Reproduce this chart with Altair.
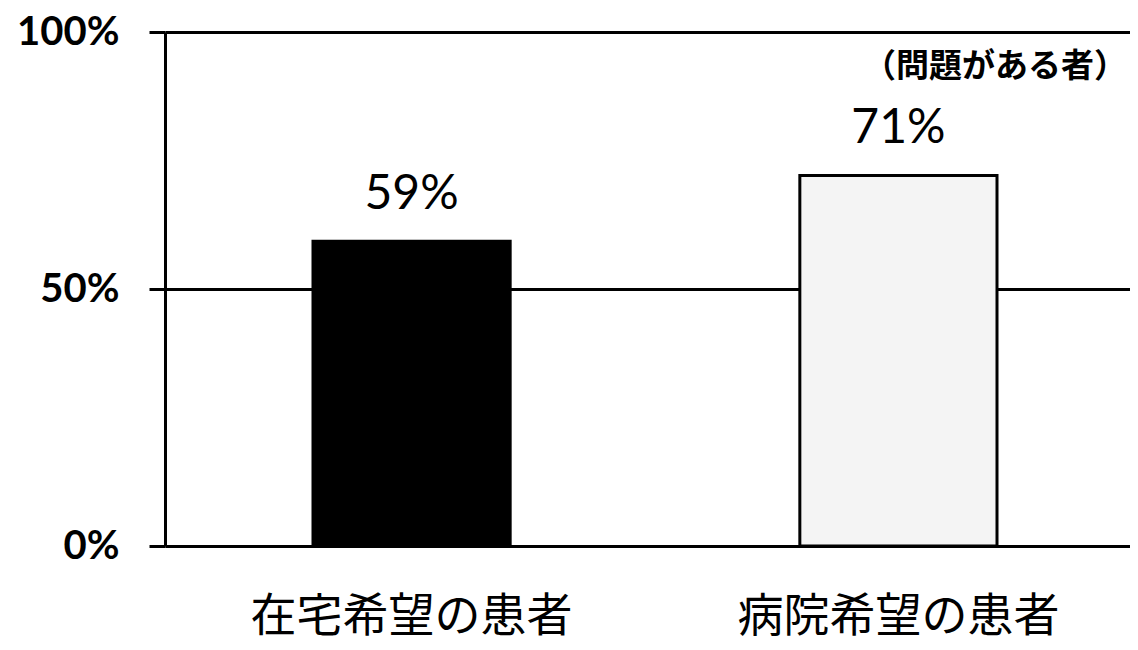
import altair as alt
import pandas as pd

categories = ["在宅希望の患者", "病院希望の患者"]
values = [59.3, 72.1]
labels = ["59%", "71%"]
fills = ["#000000", "#f4f4f4"]
y_ticks = [0, 50, 100]
note = ["（問題がある者）"]
note_y = [93.2]

df = pd.DataFrame({"cat": categories, "val": values, "label": labels, "fill": fills})
note_df = pd.DataFrame({"t": note, "y": note_y})

x_enc = alt.X(
    "cat:N",
    sort=categories,
    scale=alt.Scale(range=[0, 980], paddingInner=0.595, paddingOuter=0.304),
    axis=alt.Axis(
        title=None, labelAngle=0, ticks=False, domain=False,
        labelFont="Noto Sans CJK JP", labelFontSize=46, labelColor="black",
        labelPadding=48, labelLimit=0,
    ),
)
y_enc = alt.Y(
    "val:Q",
    scale=alt.Scale(domain=[0, 100], nice=False),
    axis=alt.Axis(
        title=None, values=y_ticks, labelExpr="datum.value + '%'",
        labelFont="Lato", labelFontWeight="bold", labelFontSize=40, labelColor="black",
        labelPadding=30, tickSize=16, tickColor="black", tickWidth=3,
        domainColor="black", domainWidth=3,
        grid=True, gridColor="black", gridWidth=3,
    ),
)

bars = alt.Chart(df).mark_bar(stroke="black", strokeWidth=3).encode(
    x=x_enc, y=y_enc, fill=alt.Fill("fill:N", scale=None)
)

texts = alt.Chart(df).mark_text(
    font="Lato", fontSize=48, baseline="alphabetic", dy=-32, color="black"
).encode(x=alt.X("cat:N", sort=categories), y="val:Q", text="label:N")

annot = alt.Chart(note_df).mark_text(
    font="Noto Sans CJK JP", fontSize=33, fontWeight="bold", align="center",
    baseline="middle", color="black"
).encode(x=alt.value(830), y="y:Q", text="t:N")

chart = alt.layer(bars, texts, annot).properties(
    width=965, height=514,
    autosize=alt.AutoSizeParams(type="none"),
    padding={"left": 157, "top": 24, "right": 0, "bottom": 96},
).configure_view(stroke=None)

chart.save("out.html", embed_options={"renderer": "svg", "actions": False})
